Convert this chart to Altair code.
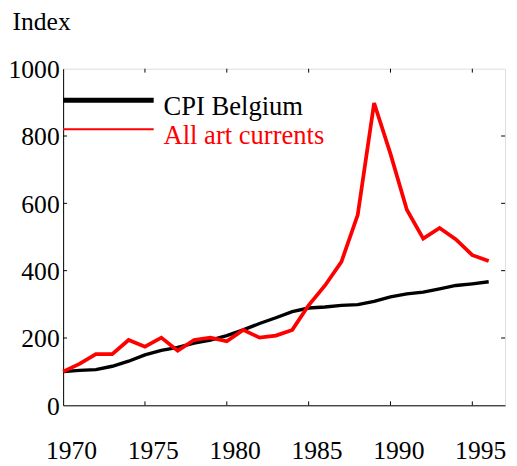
import altair as alt
import pandas as pd

years = list(range(1970, 1997))
cpi = [100, 104, 106, 116, 131, 150, 163, 172, 185, 194, 207, 224, 243, 260, 278,
       289, 292, 297, 299, 309, 322, 331, 336, 346, 356, 361, 367]
art = [100, 123, 152, 152, 194, 174, 201, 162, 194, 201, 190, 224, 201, 207, 224,
       297, 356, 426, 566, 898, 747, 581, 495, 527, 493, 446, 429]
series_names = ["CPI Belgium", "All art currents"]
series_colors = ["black", "red"]
x_ticks = [1970, 1975, 1980, 1985, 1990, 1995]
y_ticks = [0, 200, 400, 600, 800, 1000]

FONT = "Liberation Serif"
FS = 26
W, H = 449, 342

df_cpi = pd.DataFrame({"year": years, "value": cpi, "series": series_names[0]})
df_art = pd.DataFrame({"year": years, "value": art, "series": series_names[1]})

xscale = alt.Scale(domain=[1970, 1997], nice=False, zero=False)
yscale = alt.Scale(domain=[0, 1000], nice=False)

x_axis = alt.Axis(values=x_ticks, format="d", ticks=False, labelPadding=33, labelOffset=8,
                  labelFlush=False, labelOverlap=False, labelBound=False, grid=False, title=None,
                  labelFontSize=FS, labelFont=FONT, labelColor="black",
                  domainColor="black", domainWidth=1)
y_axis = alt.Axis(values=y_ticks, format="d", ticks=False, labelPadding=4, labelOffset=1, grid=False,
                  labelFontSize=FS, labelFont=FONT, labelColor="black",
                  domainColor="black", domainWidth=1,
                  title="Index", titleAngle=0, titleAlign="left", titleBaseline="alphabetic",
                  titleX=-52, titleY=-40, titleFontSize=FS, titleFont=FONT,
                  titleFontWeight="normal", titleColor="black")

cpi_line = alt.Chart(df_cpi).mark_line(color=series_colors[0], strokeWidth=3.4).encode(
    x=alt.X("year:Q", scale=xscale, axis=x_axis),
    y=alt.Y("value:Q", scale=yscale, axis=y_axis),
)
art_line = alt.Chart(df_art).mark_line(color=series_colors[1], strokeWidth=3.8).encode(
    x=alt.X("year:Q", scale=xscale),
    y=alt.Y("value:Q", scale=yscale),
)

# inward ticks on all four sides
xt = pd.DataFrame({"year": x_ticks[1:]})
yt = pd.DataFrame({"value": y_ticks[1:-1]})
tick_style = dict(color="black", strokeWidth=1)
bottom_ticks = alt.Chart(xt).mark_rule(**tick_style).encode(
    x=alt.X("year:Q", scale=xscale), y=alt.value(H), y2=alt.value(H - 4))
top_ticks = alt.Chart(xt).mark_rule(**tick_style).encode(
    x=alt.X("year:Q", scale=xscale), y=alt.value(0), y2=alt.value(4))
left_ticks = alt.Chart(yt).mark_rule(**tick_style).encode(
    y=alt.Y("value:Q", scale=yscale), x=alt.value(0), x2=alt.value(4))
right_ticks = alt.Chart(yt).mark_rule(**tick_style).encode(
    y=alt.Y("value:Q", scale=yscale), x=alt.value(W), x2=alt.value(W - 4))

# manual legend
leg = pd.DataFrame({"series": series_names})
leg_cpi_line = alt.Chart(leg.iloc[[0]]).mark_rule(color=series_colors[0], strokeWidth=5).encode(
    x=alt.value(0), x2=alt.value(92), y=alt.value(32))
leg_cpi_text = alt.Chart(leg.iloc[[0]]).mark_text(
    color=series_colors[0], align="left", baseline="alphabetic", font=FONT, fontSize=27).encode(
    x=alt.value(102), y=alt.value(47), text="series:N")
leg_art_line = alt.Chart(leg.iloc[[1]]).mark_rule(color=series_colors[1], strokeWidth=2).encode(
    x=alt.value(0), x2=alt.value(92), y=alt.value(61.5))
leg_art_text = alt.Chart(leg.iloc[[1]]).mark_text(
    color=series_colors[1], align="left", baseline="alphabetic", font=FONT, fontSize=27).encode(
    x=alt.value(102), y=alt.value(76.5), text="series:N")

chart = alt.layer(
    cpi_line, art_line,
    bottom_ticks, top_ticks, left_ticks, right_ticks,
    leg_cpi_line, leg_cpi_text, leg_art_line, leg_art_text,
).properties(
    width=W, height=H,
    autosize=alt.AutoSizeParams(type="none"),
    padding={"left": 56, "top": 58, "right": 4, "bottom": 58},
).configure_view(stroke="black", strokeWidth=1).configure(background="white")

chart.save("out.html", embed_options={"renderer": "svg", "actions": False})
